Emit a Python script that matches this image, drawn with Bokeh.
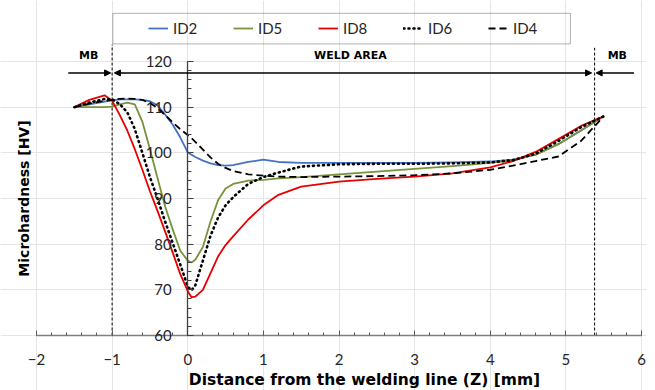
import numpy as np
from bokeh.plotting import figure
from bokeh.models import (Range1d, LinearAxis, SingleIntervalTicker, Legend, LegendItem,
                          Arrow, NormalHead, BoxAnnotation)
from bokeh.core.properties import value
from bokeh.embed import file_html
from bokeh.resources import INLINE

# ---------------- data ----------------
dist = [-1.5, -1.3, -1.1, -1.0, -0.9, -0.8, -0.7, -0.6, -0.5, -0.4, -0.3, -0.2, -0.1,
        0.0, 0.05, 0.1, 0.2, 0.3, 0.4, 0.5, 0.6, 0.8, 1.0, 1.2, 1.5, 2.0, 2.5, 3.0,
        3.5, 4.0, 4.3, 4.6, 4.9, 5.2, 5.5]

id2 = [110.0, 110.6, 111.2, 111.5, 111.7, 111.7, 111.7, 111.6, 111.3, 110.4, 108.4, 106.2, 103.4,
       100.1, 99.6, 99.1, 98.3, 97.7, 97.3, 97.2, 97.3, 98.0, 98.5, 98.0, 97.8, 97.8, 97.8, 97.8,
       97.9, 98.1, 98.5, 99.6, 101.9, 104.9, 108.0]
id5 = [110.0, 110.0, 110.0, 110.1, 110.6, 111.0, 110.6, 106.8, 100.8, 94.5, 88.3, 83.3, 78.6,
       76.4, 76.0, 76.6, 79.4, 84.9, 89.6, 92.2, 93.2, 93.9, 94.1, 94.4, 94.7, 95.3, 95.9, 96.5,
       97.1, 97.8, 98.4, 99.6, 101.9, 104.9, 108.0]
id8 = [110.0, 111.6, 112.6, 111.4, 108.3, 104.9, 100.8, 96.3, 91.6, 87.3, 82.8, 78.2, 73.5,
       69.7, 68.4, 68.5, 70.0, 73.6, 77.3, 79.8, 81.7, 85.4, 88.5, 90.8, 92.6, 93.7, 94.3, 94.8,
       95.5, 96.8, 98.2, 100.2, 103.0, 105.9, 108.0]
id6 = [110.0, 111.0, 111.8, 111.7, 110.7, 108.9, 105.2, 100.0, 94.7, 90.0, 85.0, 80.3, 75.6,
       70.7, 69.9, 71.0, 76.4, 81.8, 85.8, 88.5, 90.3, 93.2, 94.7, 95.7, 97.0, 97.5, 97.6, 97.6,
       97.7, 97.9, 98.4, 99.8, 102.6, 105.6, 108.0]
id4 = [110.0, 110.8, 111.4, 111.6, 111.8, 111.9, 111.8, 111.6, 110.9, 109.8, 108.3, 106.7, 105.2,
       103.9, 103.2, 102.4, 100.7, 99.0, 97.6, 96.7, 96.0, 95.3, 95.0, 94.8, 94.7, 94.8, 94.9, 95.1,
       95.5, 96.3, 97.2, 98.2, 99.2, 102.6, 108.0]

series_names = ["ID2", "ID5", "ID8", "ID6", "ID4"]
series_values = [id2, id5, id8, id6, id4]

x_axis_span = (-2, 6)
y_axis_span = (60, 120)
zone_edges = [-1.0, 5.38]          # borders MB | WELD AREA | MB
zone_labels = ["MB", "WELD AREA", "MB"]
zone_label_x = [-1.31, 2.15, 5.68]

x_title = "Distance from the welding line (Z) [mm]"
y_title = "Microhardness [HV]"

# ---------------- figure ----------------
W, H = 646, 390
p = figure(width=W, height=H, x_range=Range1d(-2.476, 6.066), y_range=Range1d(47.96, 133.36),
           output_backend="svg", toolbar_location=None, title=None,
           x_axis_location=None, y_axis_location=None,
           min_border=0, min_border_left=0, min_border_right=0,
           min_border_top=0, min_border_bottom=0)
p.outline_line_color = None
p.background_fill_color = "white"
p.border_fill_color = "white"

FONT = "Lato"
BOLD = "DejaVu Sans"

# x axis crossing at y = 60
xa = LinearAxis(fixed_location=y_axis_span[0], bounds=x_axis_span,
                ticker=SingleIntervalTicker(interval=1, num_minor_ticks=5))
xa.axis_line_color = "#7f7f7f"
xa.axis_line_width = 1.3
xa.major_tick_in = 5
xa.major_tick_out = 0
xa.minor_tick_in = 3
xa.minor_tick_out = 0
xa.major_tick_line_color = "#595959"
xa.minor_tick_line_color = "#595959"
xa.major_label_standoff = 18
xa.major_label_text_font = FONT
xa.major_label_text_font_size = "15px"
xa.major_label_text_color = "#262626"
p.add_layout(xa, "below")

# y axis crossing at x = 0
ya = LinearAxis(fixed_location=0, bounds=y_axis_span,
                ticker=SingleIntervalTicker(interval=10, num_minor_ticks=5))
ya.axis_line_color = "#404040"
ya.axis_line_width = 1.3
ya.major_tick_in = 6
ya.major_tick_out = 0
ya.minor_tick_in = 4
ya.minor_tick_out = 0
ya.major_tick_line_color = "#404040"
ya.minor_tick_line_color = "#404040"
ya.major_label_standoff = 16
ya.major_label_text_font = FONT
ya.major_label_text_font_size = "15px"
ya.major_label_text_color = "#262626"
p.add_layout(ya, "left")

# axis titles
p.text(x=[-2.159], y=[90.0], text=[y_title], angle=np.pi / 2, text_align="center",
       text_baseline="middle", text_font=value(BOLD), text_font_size="14px",
       text_font_style="bold", text_color="black")
p.text(x=[2.337], y=[50.3], text=[x_title], text_align="center",
       text_baseline="middle", text_font=value(BOLD), text_font_size="15.5px",
       text_font_style="bold", text_color="black")

# zone borders
p.segment(x0=zone_edges, y0=[60, 60], x1=zone_edges, y1=[123.7, 123.0],
          line_color="black", line_width=1, line_dash="3 2")

# curves
colors = ["#4472C4", "#77933C", "#E60000", "black", "black"]
dashes = ["solid", "solid", "solid", "1 4", "7 4"]
widths = [1.8, 1.8, 1.8, 2.6, 1.8]
renderers = []
for name, ys, c, d, w in zip(series_names, series_values, colors, dashes, widths):
    r = p.line(dist, ys, line_color=c, line_width=w, line_dash=d,
               line_cap="round" if name == "ID6" else "butt", line_join="round")
    renderers.append(r)

# zone arrows and labels
AY = 117.5
head = dict(size=6, fill_color="black", line_color="black")
p.add_layout(Arrow(end=NormalHead(**head), x_start=-1.58, y_start=AY, x_end=-1.02, y_end=AY,
                   line_width=1.5, line_color="black"))
p.add_layout(Arrow(start=NormalHead(**head), end=NormalHead(**head), x_start=-0.97, y_start=AY,
                   x_end=5.34, y_end=AY, line_width=1.5, line_color="black"))
p.add_layout(Arrow(end=NormalHead(**head), x_start=5.9, y_start=AY, x_end=5.40, y_end=AY,
                   line_width=1.5, line_color="black"))
p.text(x=zone_label_x, y=[121.3] * 3, text=zone_labels, text_align="center",
       text_baseline="middle", text_font=value(BOLD), text_font_size="11px",
       text_font_style="bold", text_color="black")

# legend
p.add_layout(BoxAnnotation(left=-0.99, right=5.06, bottom=123.85, top=130.55,
                           fill_alpha=0, line_color="black", line_width=1))
legend = Legend(items=[LegendItem(label=n, renderers=[r]) for n, r in zip(series_names, renderers)],
                orientation="horizontal", location=(143, 347), padding=5, margin=0,
                spacing=5, label_width=55, glyph_width=20, glyph_height=20, label_standoff=5,
                border_line_alpha=0, background_fill_alpha=0,
                label_text_font=FONT, label_text_font_size="15px", label_text_color="#262626")
p.add_layout(legend)

open("out.html", "w").write(file_html(p, INLINE))
